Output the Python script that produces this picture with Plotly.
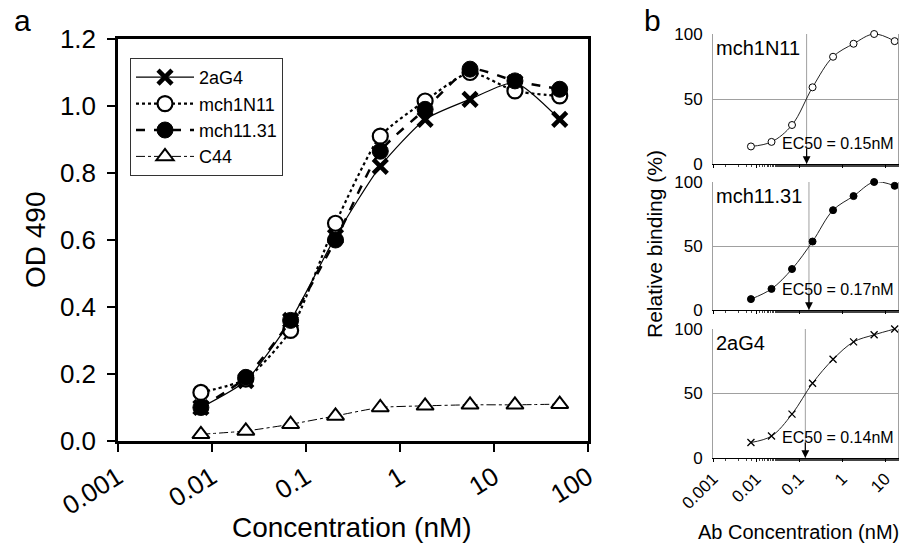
import math
import plotly.graph_objects as go

# ---------------- data ----------------
conc_a = [0.00762, 0.0229, 0.0686, 0.206, 0.617, 1.85, 5.56, 16.7, 50.0]
od_2aG4 = [0.10, 0.18, 0.36, 0.61, 0.82, 0.96, 1.02, 1.07, 0.96]
od_mch1N11 = [0.145, 0.185, 0.33, 0.65, 0.91, 1.015, 1.10, 1.045, 1.03]
od_mch1131 = [0.10, 0.19, 0.36, 0.60, 0.865, 0.99, 1.11, 1.075, 1.05]
od_C44 = [0.02, 0.03, 0.05, 0.075, 0.10, 0.105, 0.108, 0.108, 0.11]

conc_b = [0.00762, 0.0229, 0.0686, 0.206, 0.617, 1.85, 5.56, 16.7]
rel_mch1N11 = [13.5, 17, 30, 59, 82.5, 92.5, 100, 94.5]
rel_mch1131 = [8.5, 16.5, 32, 53.5, 78, 89, 100, 97]
rel_2aG4 = [12, 17, 34, 58, 76.5, 90, 95.5, 100]
ec50 = [0.15, 0.17, 0.14]
names_b = ["mch1N11", "mch11.31", "2aG4"]

xticks_a = [0.001, 0.01, 0.1, 1, 10, 100]
xticklabels_a = ["0.001", "0.01", "0.1", "1", "10", "100"]
xticks_b = [0.001, 0.01, 0.1, 1, 10]
xticklabels_b = ["0.001", "0.01", "0.1", "1", "10"]

FONT = "Liberation Sans, Arial, sans-serif"
W, H = 903, 549

def px_x(p):
    return p / W

def px_y(p):
    return 1 - p / H

fig = go.Figure()

# ---------------- panel a ----------------
fig.add_trace(go.Scatter(
    x=conc_a, y=od_2aG4, name="2aG4", mode="lines+markers",
    line=dict(color="black", width=1.2, shape="spline", smoothing=0.6),
    marker=dict(symbol="x-thin", size=14, color="black",
                line=dict(color="black", width=4.5)),
    xaxis="x", yaxis="y", cliponaxis=False))
fig.add_trace(go.Scatter(
    x=conc_a, y=od_mch1N11, name="mch1N11", mode="lines+markers",
    line=dict(color="black", width=2.2, dash="dot", shape="spline", smoothing=0.6),
    marker=dict(symbol="circle", size=15, color="white",
                line=dict(color="black", width=2.2)),
    xaxis="x", yaxis="y", cliponaxis=False))
fig.add_trace(go.Scatter(
    x=conc_a, y=od_mch1131, name="mch11.31", mode="lines+markers",
    line=dict(color="black", width=2.5, dash="dash", shape="spline", smoothing=0.6),
    marker=dict(symbol="circle", size=16, color="black",
                line=dict(color="black", width=1)),
    xaxis="x", yaxis="y", cliponaxis=False))
fig.add_trace(go.Scatter(
    x=conc_a, y=od_C44, name="C44", mode="lines+markers",
    line=dict(color="black", width=1, dash="dashdot", shape="spline", smoothing=0.6),
    marker=dict(symbol="triangle-up", size=15, color="white",
                line=dict(color="black", width=2)),
    xaxis="x", yaxis="y", cliponaxis=False))

# ---------------- panel b ----------------
b_series = [rel_mch1N11, rel_mch1131, rel_2aG4]
b_symbols = [
    dict(symbol="circle", size=7, color="white", line=dict(color="black", width=1)),
    dict(symbol="circle", size=7, color="black", line=dict(color="black", width=1)),
    dict(symbol="x-thin", size=7, color="black", line=dict(color="black", width=1.3)),
]
for i in range(3):
    ax = str(i + 2)
    # EC50 vertical reference line
    fig.add_trace(go.Scatter(
        x=[ec50[i], ec50[i]], y=[0, 100], mode="lines",
        line=dict(color="#a0a0a0", width=1), showlegend=False,
        hoverinfo="skip", xaxis="x" + ax, yaxis="y" + ax))
    fig.add_trace(go.Scatter(
        x=conc_b, y=b_series[i], mode="lines+markers", showlegend=False,
        line=dict(color="#222222", width=1, shape="spline", smoothing=1.0),
        marker=b_symbols[i], cliponaxis=False,
        xaxis="x" + ax, yaxis="y" + ax))

# ---------------- layout ----------------
layout = dict(
    width=W, height=H,
    margin=dict(l=0, r=0, t=0, b=0, autoexpand=False),
    paper_bgcolor="white", plot_bgcolor="white",
    font=dict(family=FONT, color="black"),
    showlegend=True,
    legend=dict(
        x=px_x(130), y=px_y(58), xanchor="left", yanchor="top",
        bgcolor="white", bordercolor="#333333", borderwidth=1,
        font=dict(size=18, family=FONT), itemwidth=58,
        tracegroupgap=0, itemclick=False),
    xaxis=dict(
        type="log", range=[-3, 2], domain=[px_x(118), px_x(588)],
        tickvals=xticks_a, ticktext=xticklabels_a, tickangle=-32,
        ticks="outside", ticklen=8, tickwidth=2, tickcolor="black",
        showline=True, linecolor="black", linewidth=2.5, mirror=True,
        showgrid=False, zeroline=False, automargin=False,
        tickfont=dict(size=26, family=FONT), anchor="y"),
    yaxis=dict(
        range=[0, 1.2], domain=[px_y(441), px_y(39)],
        tickvals=[0, 0.2, 0.4, 0.6, 0.8, 1.0, 1.2],
        ticktext=["0.0", "0.2", "0.4", "0.6", "0.8", "1.0", "1.2"],
        ticks="outside", ticklen=8, tickwidth=2, tickcolor="black",
        ticklabelstandoff=6,
        showline=True, linecolor="black", linewidth=2.5, mirror=True,
        showgrid=False, zeroline=False, automargin=False,
        tickfont=dict(size=26, family=FONT), anchor="x"),
)

b_domains = [(34, 164), (182, 310), (329, 458)]
for i in range(3):
    ax = str(i + 2)
    top, bot = b_domains[i]
    last = (i == 2)
    layout["xaxis" + ax] = dict(
        type="log", range=[-3, 1.3], domain=[px_x(713), px_x(898)],
        tickvals=xticks_b, ticktext=xticklabels_b,
        showticklabels=last, tickangle=-45,
        ticks="outside", ticklen=3, tickwidth=1, tickcolor="black",
        minor=dict(ticks="outside", ticklen=2, tickwidth=0.8, tickcolor="#444444"),
        showline=True, linecolor="black", linewidth=1.2, mirror=False,
        showgrid=False, zeroline=False, automargin=False,
        tickfont=dict(size=17, family=FONT), anchor="y" + ax)
    layout["yaxis" + ax] = dict(
        range=[0, 100], domain=[px_y(bot), px_y(top)],
        tickvals=[0, 50, 100], ticks="", showline=True, linecolor="#a0a0a0",
        ticklabelstandoff=6,
        linewidth=1, mirror=True, showgrid=True, gridcolor="#a0a0a0",
        gridwidth=1, zeroline=False, automargin=False,
        tickfont=dict(size=17, family=FONT), anchor="x" + ax)

def label(text, x, y, size, angle=0):
    return dict(text=text, x=px_x(x), y=px_y(y), xref="paper", yref="paper",
                xanchor="center", yanchor="middle", textangle=angle,
                showarrow=False, font=dict(size=size, family=FONT))

annotations = [
    label("a", 22, 20, 30),
    label("b", 652, 20, 30),
    label("OD 490", 35, 240, 28, -90),
    label("Concentration (nM)", 352, 527, 28),
    label("Relative binding (%)", 654, 244, 21, -90),
    label("Ab Concentration (nM)", 798, 532, 20),
]
for i in range(3):
    ax = str(i + 2)
    annotations.append(dict(
        text=names_b[i], xref="x" + ax + " domain", yref="y" + ax + " domain",
        x=0.005, y=0.99, xanchor="left", yanchor="top", showarrow=False,
        font=dict(size=20, family=FONT)))
    annotations.append(dict(
        text="EC50 = %.2fnM" % ec50[i], xref="x" + ax + " domain", yref="y" + ax,
        x=0.99, y=16, xanchor="right", yanchor="middle", showarrow=False,
        font=dict(size=16, family=FONT)))
    annotations.append(dict(
        text="", xref="x" + ax, yref="y" + ax, x=math.log10(ec50[i]), y=0,
        ax=0, ay=-17, showarrow=True, arrowhead=2, arrowsize=1.3,
        arrowwidth=1.2, arrowcolor="black", standoff=0))

layout["annotations"] = annotations
fig.update_layout(**layout)
fig.write_html(
    "out.html",
    config={"displayModeBar": False},
    post_script="document.body.style.margin='0';document.body.style.padding='0';",
)
